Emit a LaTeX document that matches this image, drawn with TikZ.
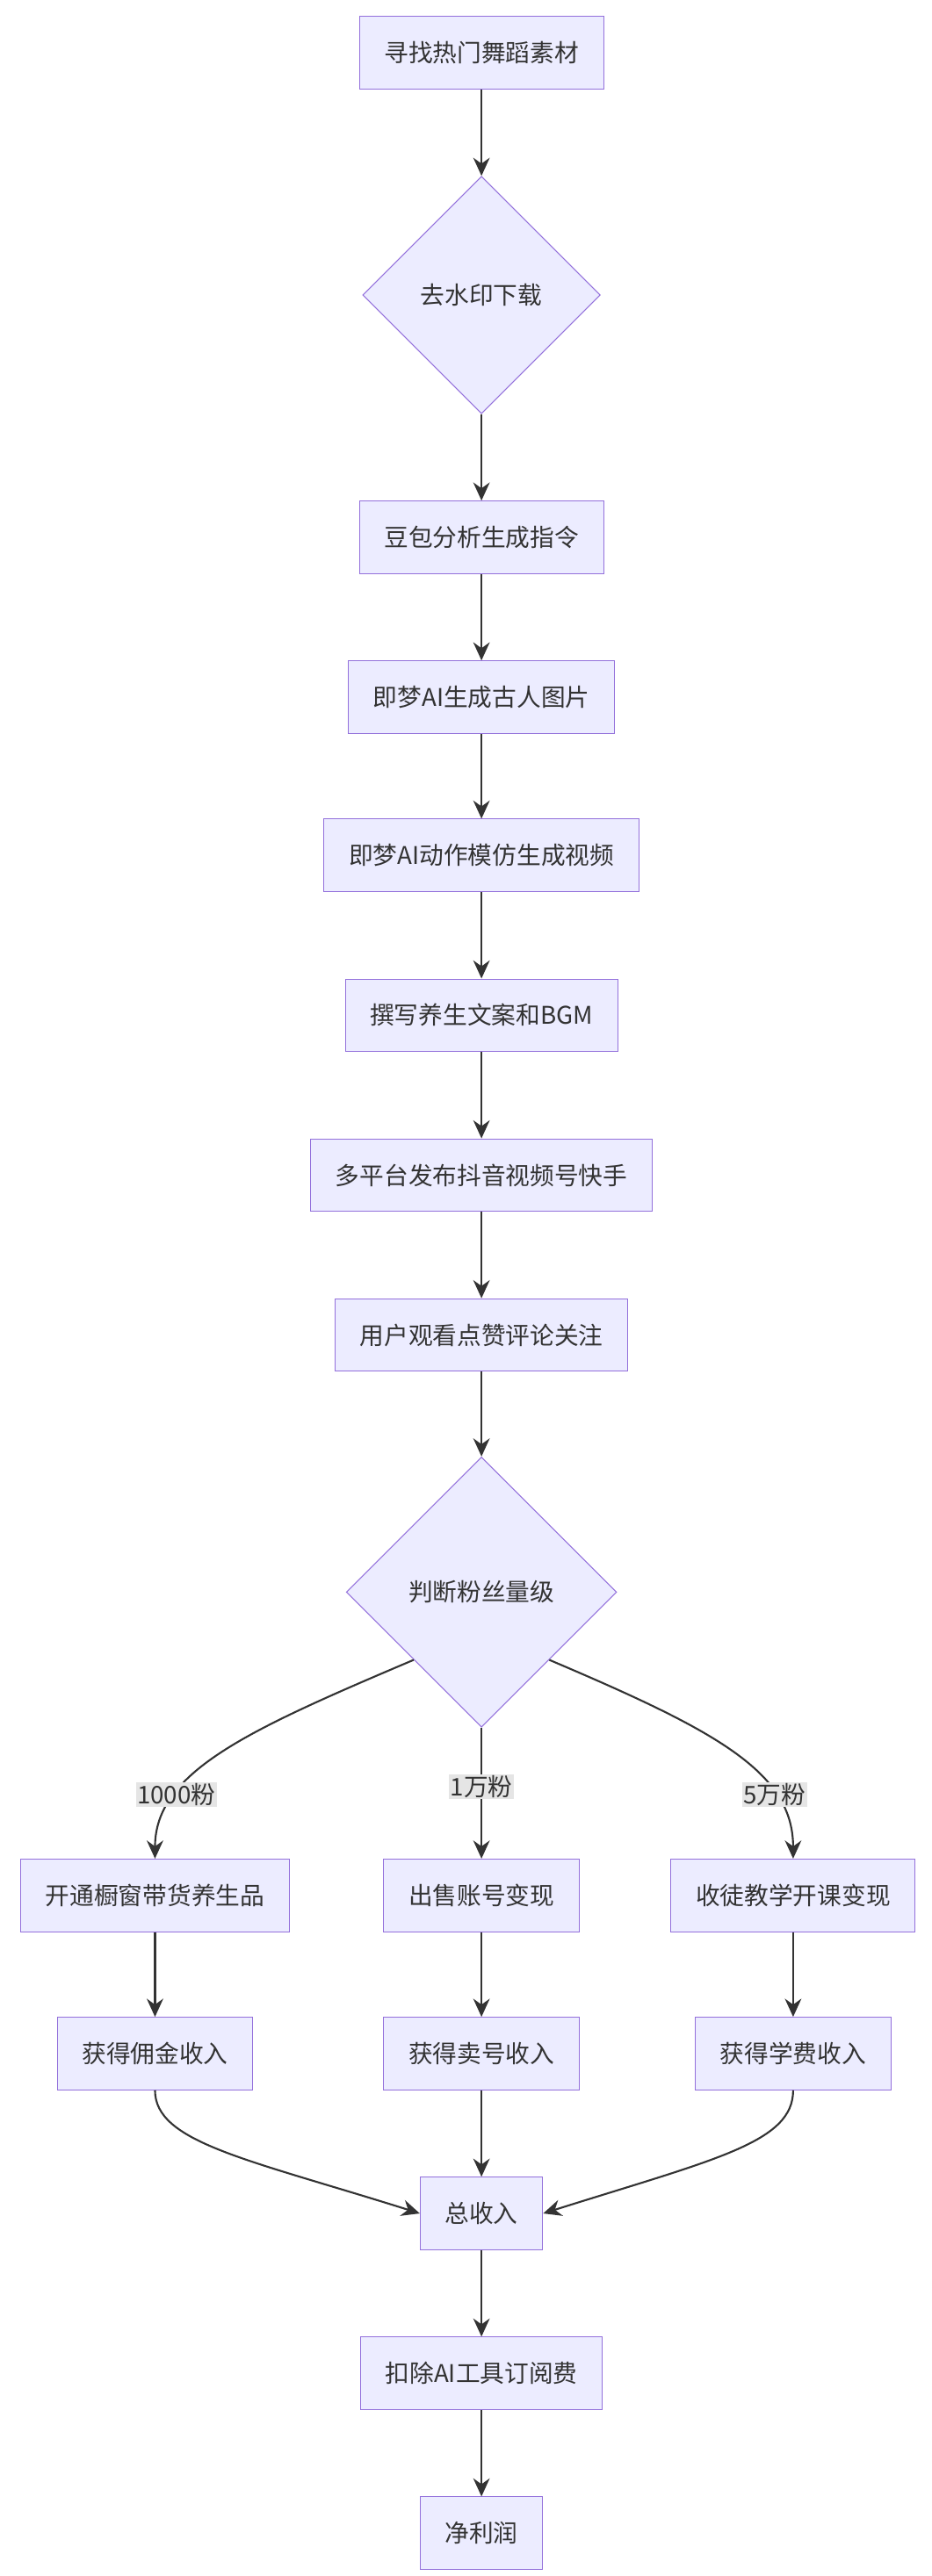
\documentclass[tikz,border=0pt]{standalone}
\usepackage{fontspec}
\setmainfont{Noto Sans CJK SC}
\usetikzlibrary{positioning,calc,shapes.geometric,arrows.meta}
\definecolor{boxfill}{HTML}{ECECFF}
\definecolor{boxline}{HTML}{9370DB}
\definecolor{arr}{HTML}{333333}
\tikzstyle{box}= [rectangle, draw=boxline, fill=boxfill, line width=0.8pt, minimum height=2.2cm, inner xsep=0.75cm, font=\fontsize{21}{25}\selectfont, text=arr]
\tikzstyle{dec}= [diamond, draw=boxline, fill=boxfill, line width=0.8pt, aspect=1, inner sep=0pt, font=\fontsize{21}{25}\selectfont, text=arr]
\tikzstyle{flow}= [draw=arr, line width=1.6pt, -{Stealth[length=0.55cm,width=0.5cm]}]
\tikzstyle{lab}= [fill=black!10, inner sep=1pt, font=\fontsize{21}{25}\selectfont, text=arr]
\begin{document}
\begin{tikzpicture}[x=0.05cm,y=-0.05cm]
				\useasboundingbox (0,0) rectangle (565,1563);
				\node[box] (find) at (292, 32) {寻找热门舞蹈素材};
				\node[dec, minimum size=7.2cm] (mark) at (292, 179) {去水印下载};
				\node[box] (prompt) at (292, 326) {豆包分析生成指令};
				\node[box] (img) at (292, 423) {即梦AI生成古人图片};
				\node[box] (vid) at (292, 519) {即梦AI动作模仿生成视频};
				\node[box] (copy) at (292, 616) {撰写养生文案和BGM};
				\node[box] (pub) at (292, 713) {多平台发布抖音视频号快手};
				\node[box] (user) at (292, 810) {用户观看点赞评论关注};
				\node[dec, minimum size=8.2cm] (fans) at (292, 966) {判断粉丝量级};
				\node[box] (shop) at (94, 1150) {开通橱窗带货养生品};
				\node[box] (sell) at (292, 1150) {出售账号变现};
				\node[box] (teach) at (481, 1150) {收徒教学开课变现};
				\node[box] (comm) at (94, 1246) {获得佣金收入};
				\node[box] (acct) at (292, 1246) {获得卖号收入};
				\node[box] (fee) at (481, 1246) {获得学费收入};
				\node[box] (total) at (292, 1343) {总收入};
				\node[box] (sub) at (292, 1440) {扣除AI工具订阅费};
				\node[box] (net) at (292, 1537) {净利润};
				\draw[flow] (find) -- (mark);
				\draw[flow] (mark) -- (prompt);
				\draw[flow] (prompt) -- (img);
				\draw[flow] (img) -- (vid);
				\draw[flow] (vid) -- (copy);
				\draw[flow] (copy) -- (pub);
				\draw[flow] (pub) -- (user);
				\draw[flow] (user) -- (fans);
				\draw[flow] (fans.south west) .. controls (150, 1050) and (94, 1075) .. node[lab, pos=0.72] {1000粉} (shop);
				\draw[flow] (fans) -- node[lab, pos=0.45] {1万粉} (sell);
				\draw[flow] (fans.south east) .. controls (434, 1050) and (481, 1075) .. node[lab, pos=0.72] {5万粉} (teach);
				\draw[flow] (shop) -- (comm);
				\draw[flow] (sell) -- (acct);
				\draw[flow] (teach) -- (fee);
				\draw[flow] (comm.south) .. controls (94, 1300) and (150, 1310) .. (total.west);
				\draw[flow] (acct) -- (total);
				\draw[flow] (fee.south) .. controls (481, 1300) and (434, 1310) .. (total.east);
				\draw[flow] (total) -- (sub);
				\draw[flow] (sub) -- (net);
			\end{tikzpicture}
\end{document}
